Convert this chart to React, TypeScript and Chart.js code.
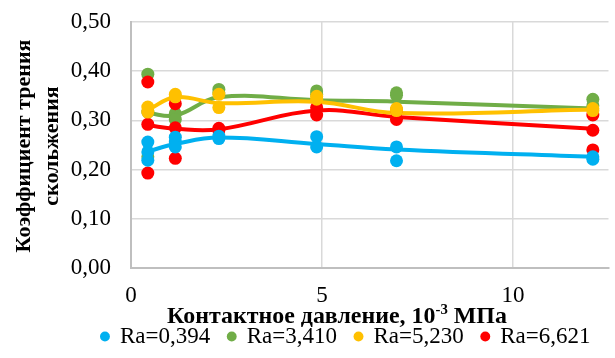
import React, { useEffect, useRef } from "react";
import { Chart, registerables } from "chart.js";

Chart.register(...registerables);

// Contact pressure values (x), 10^-3 MPa
const xValues = [0.44, 1.16, 2.3, 4.86, 6.95, 12.09];

// Measured points (several per pressure value)
const bluePoints = [[0.256, 0.236, 0.219], [0.266, 0.256, 0.246], [0.263, 0.268], [0.267, 0.246], [0.246, 0.218], [0.221, 0.226]];
const greenPoints = [[0.394, 0.317, 0.226], [0.314, 0.302], [0.363, 0.356], [0.36, 0.353], [0.356, 0.351], [0.343, 0.33]];
const yellowPoints = [[0.327, 0.317], [0.353, 0.348], [0.353, 0.326], [0.349, 0.343], [0.324, 0.32], [0.324, 0.32]];
const redPoints = [[0.378, 0.292, 0.193], [0.334, 0.285, 0.223], [0.284, 0.28], [0.326, 0.311], [0.321, 0.302], [0.311, 0.28, 0.24]];

// Smoothed average lines
const blueLine = [0.237, 0.252, 0.265, 0.252, 0.241, 0.226];
const greenLine = [0.315, 0.31, 0.347, 0.341, 0.338, 0.324];
const yellowLine = [0.321, 0.347, 0.335, 0.338, 0.315, 0.322];
const redLine = [0.29, 0.283, 0.282, 0.32, 0.307, 0.283];

const seriesLabels = ["Ra=0,394", "Ra=3,410", "Ra=5,230", "Ra=6,621"];
const xTicks = [0, 5, 10];
const yTitleLines = ["Коэффициент трения", "скольжения"];
const xTitleParts = ["Контактное давление, 10", "-3", " МПа"];

const BLUE = "#00B0F0";
const GREEN = "#70AD47";
const YELLOW = "#FFC000";
const RED = "#FF0000";
const FONT = "'Liberation Serif', 'Times New Roman', serif";

const toPoints = (arr: number[][]) =>
  arr.flatMap((ys, i) => ys.map((y) => ({ x: xValues[i], y })));
const toLine = (arr: number[]) => arr.map((y, i) => ({ x: xValues[i], y }));

const pointDs = (label: string, data: number[][], color: string) => ({
  type: "scatter" as const,
  label,
  data: toPoints(data),
  backgroundColor: color,
  borderColor: color,
  borderWidth: 0,
  pointRadius: 6.5,
  pointStyle: "circle",
  showLine: false,
});

const lineDs = (label: string, data: number[], color: string) => ({
  type: "scatter" as const,
  label,
  data: toLine(data),
  backgroundColor: color,
  borderColor: color,
  borderWidth: 4,
  pointRadius: 0,
  showLine: true,
  tension: 0.4,
});

const titlesPlugin = {
  id: "titles",
  afterLayout(chart: any) {
    if (chart.legend) {
      chart.legend.left += 39;
      chart.legend.right += 39;
    }
  },
  afterDraw(chart: any) {
    const ctx = chart.ctx;
    ctx.save();
    ctx.fillStyle = "#000";
    // Y title: fit first line to its width in the picture
    ctx.font = `bold 100px ${FONT}`;
    const ys = (100 * 213) / ctx.measureText(yTitleLines[0]).width;
    ctx.font = `bold ${ys}px ${FONT}`;
    ctx.textAlign = "center";
    ctx.textBaseline = "middle";
    const cy = 146;
    const xs = [24, 52];
    yTitleLines.forEach((t, i) => {
      ctx.save();
      ctx.translate(xs[i], cy);
      ctx.rotate(-Math.PI / 2);
      ctx.fillText(t, 0, 0);
      ctx.restore();
    });
    // X title with superscript, fitted to its width in the picture
    const measure = (s: number) => {
      ctx.font = `bold ${s}px ${FONT}`;
      const a = ctx.measureText(xTitleParts[0]).width;
      const c = ctx.measureText(xTitleParts[2]).width;
      ctx.font = `bold ${s * 0.62}px ${FONT}`;
      const b = ctx.measureText(xTitleParts[1]).width;
      return [a, b, c];
    };
    const m100 = measure(100);
    const s = (100 * 340) / (m100[0] + m100[1] + m100[2]);
    const [w1, w2, w3] = measure(s);
    const big = `bold ${s}px ${FONT}`;
    const small = `bold ${s * 0.62}px ${FONT}`;
    ctx.textAlign = "left";
    ctx.textBaseline = "alphabetic";
    let x = 337 - (w1 + w2 + w3) / 2;
    const base = 323;
    ctx.font = big;
    ctx.fillText(xTitleParts[0], x, base);
    x += w1;
    ctx.font = small;
    ctx.fillText(xTitleParts[1], x, base - s * 0.36);
    x += w2;
    ctx.font = big;
    ctx.fillText(xTitleParts[2], x, base);
    ctx.restore();
  },
};

const rank = [0, 2, 3, 1];

export default function App() {
  const ref = useRef<HTMLCanvasElement>(null);
  useEffect(() => {
    if (!ref.current) return;
    const chart = new Chart(ref.current, {
      type: "scatter",
      data: {
        datasets: [
          pointDs(seriesLabels[0], bluePoints, BLUE),
          pointDs(seriesLabels[2], yellowPoints, YELLOW),
          pointDs(seriesLabels[3], redPoints, RED),
          pointDs(seriesLabels[1], greenPoints, GREEN),
          lineDs("l0", blueLine, BLUE),
          lineDs("l2", yellowLine, YELLOW),
          lineDs("l3", redLine, RED),
          lineDs("l1", greenLine, GREEN),
        ] as any,
      },
      options: {
        responsive: false,
        animation: false,
        devicePixelRatio: 1,
        layout: { padding: { left: 0, right: 1, top: 22, bottom: 0 } },
        plugins: {
          tooltip: { enabled: false },
          legend: {
            position: "bottom",
            labels: {
              usePointStyle: true,
              boxWidth: 7,
              boxHeight: 7,
              padding: 18,
              color: "#000",
              font: { family: FONT, size: 23 },
              filter: (item: any) => item.datasetIndex < 4,
              sort: (a: any, b: any) => rank[a.datasetIndex] - rank[b.datasetIndex],
            },
          },
        },
        scales: {
          x: {
            type: "linear",
            min: 0,
            max: 12.5,
            afterBuildTicks: (scale: any) => {
              scale.ticks = xTicks.map((v) => ({ value: v }));
            },
            afterFit: (scale: any) => {
              scale.height = 39;
            },
            grid: { color: "#D9D9D9", lineWidth: 1.5, drawTicks: false },
            border: { color: "#BFBFBF", width: 2 },
            ticks: {
              padding: 14,
              color: "#000",
              font: { family: FONT, size: 23 },
              callback: (v: any) => String(v),
            },
          },
          y: {
            type: "linear",
            min: 0,
            max: 0.5,
            afterFit: (scale: any) => {
              scale.width = 131;
            },
            grid: {
              color: "#D9D9D9",
              lineWidth: 1.5,
              drawTicks: true,
              tickLength: 20,
              tickColor: "rgba(0,0,0,0)",
            },
            border: { color: "#BFBFBF", width: 2 },
            ticks: {
              stepSize: 0.1,
              padding: 0,
              color: "#000",
              font: { family: FONT, size: 23 },
              callback: (v: any) => Number(v).toFixed(2).replace(".", ","),
            },
          },
        },
      },
      plugins: [titlesPlugin],
    });
    return () => chart.destroy();
  }, []);
  return (
    <div style={{ position: "fixed", left: 0, top: 0, width: 615, height: 358, background: "#fff" }}>
      <canvas ref={ref} width={615} height={358} />
    </div>
  );
}
